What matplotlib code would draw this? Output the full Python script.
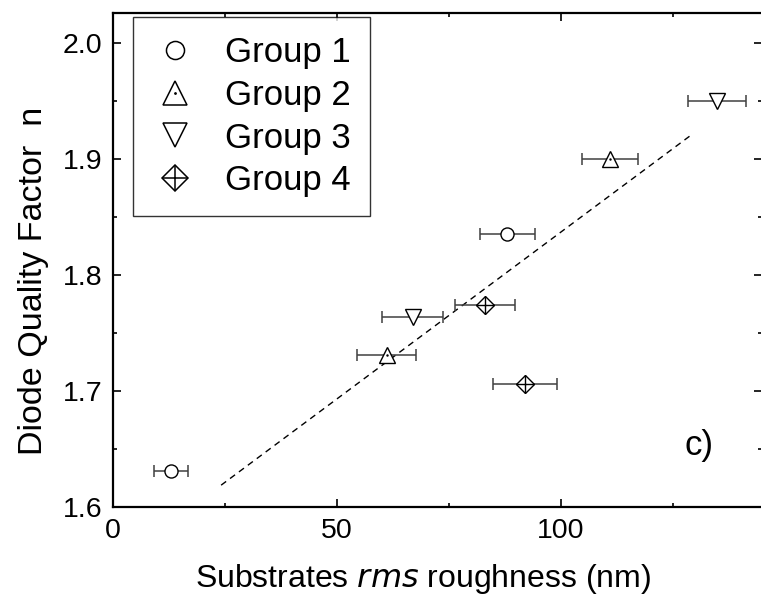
import matplotlib
matplotlib.use("Agg")
import matplotlib.pyplot as plt
from matplotlib.lines import Line2D
import numpy as np

plt.rcParams['font.family'] = ['Liberation Sans', 'DejaVu Sans']

# data (x = rms roughness nm, xerr, y = diode quality factor)
g1_x = [13.0, 88.1]
g1_xerr = [3.8, 6.2]
g1_y = [1.631, 1.835]

g2_x = [61.1, 111.0]
g2_xerr = [6.6, 6.2]
g2_y = [1.731, 1.900]

g3_x = [66.9, 134.9]
g3_xerr = [6.8, 6.5]
g3_y = [1.764, 1.950]

g4_x = [83.1, 92.0]
g4_xerr = [6.8, 7.1]
g4_y = [1.774, 1.706]

fit_slope = 0.002874
fit_intercept = 1.5493
fit_x = [24.1, 129.5]

labels = ['Group 1', 'Group 2', 'Group 3', 'Group 4']

W, H = 761, 604
fig = plt.figure(figsize=(W / 100, H / 100), dpi=100)
ax_l, ax_r, ax_t, ax_b = 113.3, 762.0, 13.3, 506.7
ax = fig.add_axes([ax_l / W, 1 - ax_b / H, (ax_r - ax_l) / W, (ax_b - ax_t) / H])

eb_kw = dict(fmt='none', ecolor='#404040', elinewidth=1.1, capsize=4.6, capthick=1.1, zorder=2)
mk_kw = dict(linestyle='none', mfc='white', mec='black', mew=1.0, zorder=3)

for xs, es, ys in [(g1_x, g1_xerr, g1_y), (g2_x, g2_xerr, g2_y), (g3_x, g3_xerr, g3_y), (g4_x, g4_xerr, g4_y)]:
    ax.errorbar(xs, ys, xerr=es, **eb_kw)

ax.plot(g1_x, g1_y, marker='o', ms=9.4, **mk_kw)
ax.plot(g2_x, g2_y, marker='^', ms=12, **mk_kw)
ax.plot(g2_x, g2_y, marker='.', ms=1.5, color='black', linestyle='none', zorder=4)
ax.plot(g3_x, g3_y, marker='v', ms=12, **mk_kw)
ax.plot(g4_x, g4_y, marker='D', ms=9.2, **mk_kw)
ax.plot(g4_x, g4_y, marker='+', ms=13, mew=1.0, color='black', linestyle='none', zorder=4)

fx = np.array(fit_x)
ax.plot(fx, fit_intercept + fit_slope * fx, color='black', lw=1.0, linestyle=(0, (4.5, 3.5)), zorder=1)

ax.set_xlim(0, 145)
ax.set_ylim(1.6, 2.0255)
ax.set_xticks([0, 50, 100])
ax.set_xticks([25, 75, 125], minor=True)
ax.set_yticks([1.6, 1.7, 1.8, 1.9, 2.0])
ax.set_yticklabels(['1.6', '1.7', '1.8', '1.9', '2.0'])
ax.set_yticks([1.65, 1.75, 1.85, 1.95], minor=True)
ax.tick_params(which='both', direction='in', top=True, right=True, labelsize=20.5, width=1.2)
ax.tick_params(which='major', length=6, pad=8)
ax.tick_params(which='minor', length=3)
for s in ax.spines.values():
    s.set_linewidth(1.6)

ax.set_xlabel('Substrates $\\it{rms}$ roughness (nm)', fontsize=23)
ax.set_ylabel('Diode Quality Factor  n', fontsize=24.5)
ax.xaxis.set_label_coords((423 - ax_l) / (ax_r - ax_l), (ax_b - 562) / (ax_b - ax_t))
ax.yaxis.set_label_coords((49 - ax_l) / (ax_r - ax_l), (ax_b - 281) / (ax_b - ax_t))

ax.text(130.9, 1.653, 'c)', fontsize=25, ha='center', va='center')

# legend with enlarged proxy markers
lk = dict(linestyle='none', mfc='white', mec='black', mew=1.1)
h1 = Line2D([], [], marker='o', ms=13, **lk)
h2 = (Line2D([], [], marker='^', ms=17, **lk), Line2D([], [], marker='.', ms=2, color='black', linestyle='none'))
h3 = Line2D([], [], marker='v', ms=17, **lk)
h4 = (Line2D([], [], marker='D', ms=13, **lk), Line2D([], [], marker='+', ms=18.5, mew=1.1, color='black', linestyle='none'))
leg_x = (133 - ax_l) / (ax_r - ax_l)
leg_y = (ax_b - 17) / (ax_b - ax_t)
leg = ax.legend([h1, h2, h3, h4], labels, loc='upper left', bbox_to_anchor=(leg_x, leg_y),
                borderaxespad=0, fontsize=25, frameon=True, fancybox=False, edgecolor='black',
                borderpad=0.55, labelspacing=0.28, handlelength=1.33, handletextpad=0.78)
leg.get_frame().set_linewidth(1.0)

fig.savefig('out.png', dpi=100)
